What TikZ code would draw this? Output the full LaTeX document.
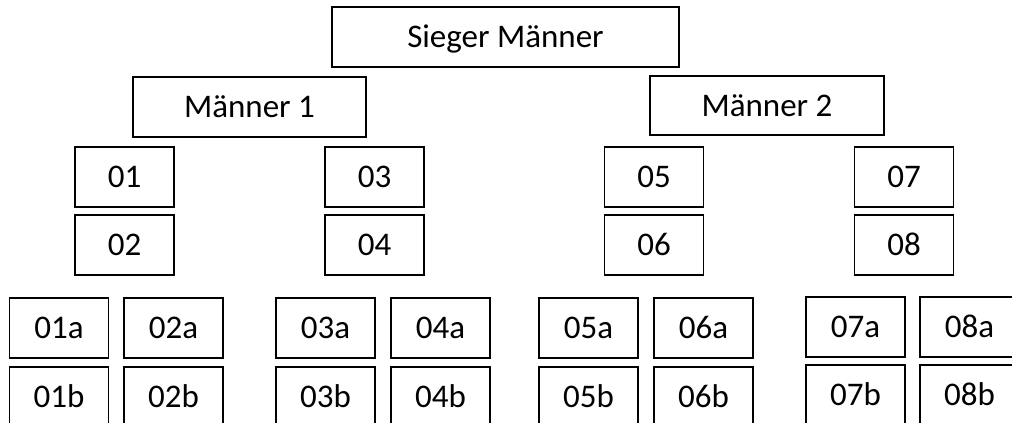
\documentclass[tikz,border=0pt]{standalone}
\usepackage{fontspec}
\setmainfont{Carlito}
\tikzset{
  team/.style={draw, line width=1.4pt, inner sep=0pt, minimum width=99pt, minimum height=60pt,
    text height=21pt, text depth=0pt, font=\fontsize{33}{40}\selectfont},
}
\begin{document}
\begin{tikzpicture}[x=1pt,y=-1pt]
            \useasboundingbox (0,0) rectangle (1012,423);
            \clip (0,0) rectangle (1012,423);
            \node[team, minimum width=347pt, anchor=center] at (505.5,37) (sieger) {Sieger Männer};
            \node[team, minimum width=233pt, anchor=center] at (249.5,107) (m1) {Männer 1};
            \node[team, minimum width=234pt, minimum height=59pt, anchor=center] at (767,105.5) (m2) {Männer 2};
            % second round
            \node[team, anchor=center] at (124.5,177) (t01) {01};
            \node[team, anchor=center] at (124.5,245) (t02) {02};
            \node[team, anchor=center] at (374.5,177) (t03) {03};
            \node[team, anchor=center] at (374.5,245) (t04) {04};
            \node[team, anchor=center] at (654,177) (t05) {05};
            \node[team, anchor=center] at (654,245) (t06) {06};
            \node[team, anchor=center] at (904,177) (t07) {07};
            \node[team, anchor=center] at (904,245) (t08) {08};
            % first round
            \node[team, anchor=center] at (59,328) (t01a) {01a};
            \node[team, anchor=center] at (59,397) (t01b) {01b};
            \node[team, anchor=center] at (173.5,328) (t02a) {02a};
            \node[team, anchor=center] at (173.5,397) (t02b) {02b};
            \node[team, anchor=center] at (325.5,328) (t03a) {03a};
            \node[team, anchor=center] at (325.5,397) (t03b) {03b};
            \node[team, anchor=center] at (440.5,328) (t04a) {04a};
            \node[team, anchor=center] at (440.5,397) (t04b) {04b};
            \node[team, anchor=center] at (588.5,328) (t05a) {05a};
            \node[team, anchor=center] at (588.5,397) (t05b) {05b};
            \node[team, anchor=center] at (703.5,328) (t06a) {06a};
            \node[team, anchor=center] at (703.5,397) (t06b) {06b};
            \node[team, anchor=center] at (855.5,327) (t07a) {07a};
            \node[team, anchor=center] at (855.5,395) (t07b) {07b};
            \node[team, anchor=center] at (969.5,327) (t08a) {08a};
            \node[team, anchor=center] at (969.5,395) (t08b) {08b};
        \end{tikzpicture}
\end{document}
